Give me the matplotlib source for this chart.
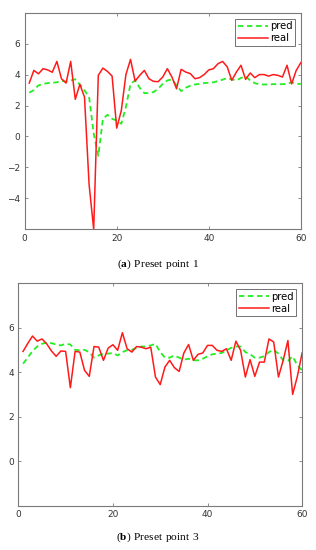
import matplotlib
matplotlib.use("Agg")
import matplotlib.pyplot as plt
import numpy as np

plt.rcParams['font.family'] = ['DejaVu Sans']
plt.rcParams['mathtext.fontset'] = 'custom'
plt.rcParams['mathtext.rm'] = 'Liberation Serif'
plt.rcParams['mathtext.bf'] = 'Liberation Serif:bold'

x = np.arange(1, 61)

real_1 = [3.45, 4.27, 4.05, 4.38, 4.30, 4.15, 4.85, 3.73, 3.45, 4.85,
          2.40, 3.37, 2.55, -3.10, -6.00, 3.95, 4.42, 4.20, 3.90, 0.54,
          1.68, 4.00, 4.98, 3.58, 3.95, 4.27, 3.73, 3.56, 3.54, 3.84,
          4.38, 3.84, 3.08, 4.34, 4.16, 4.06, 3.73, 3.80, 4.00, 4.30,
          4.38, 4.70, 4.85, 4.50, 3.63, 4.16, 4.60, 3.69, 4.10, 3.80,
          4.00, 4.00, 3.90, 4.00, 3.95, 3.84, 4.60, 3.40, 4.27, 4.77]
pred_1 = [2.83, 3.00, 3.30, 3.40, 3.45, 3.47, 3.50, 3.60, 3.55, 3.62,
          3.70, 3.35, 2.98, 2.55, 0.20, -1.25, 1.14, 1.40, 1.14, 1.03,
          0.82, 1.90, 3.40, 3.62, 3.15, 2.80, 2.80, 2.87, 3.08, 3.40,
          3.62, 3.69, 3.30, 2.93, 3.15, 3.28, 3.36, 3.40, 3.45, 3.47,
          3.50, 3.58, 3.67, 3.78, 3.69, 3.62, 3.78, 3.88, 3.62, 3.45,
          3.36, 3.36, 3.36, 3.38, 3.38, 3.38, 3.40, 3.50, 3.40, 3.40]

real_3 = [4.94, 5.30, 5.63, 5.40, 5.50, 5.28, 4.96, 4.72, 4.96, 4.94,
          3.31, 4.94, 4.91, 4.09, 3.82, 5.16, 5.13, 4.54, 5.09, 5.24,
          4.99, 5.78, 5.06, 4.91, 5.16, 5.13, 5.06, 5.13, 3.79, 3.45,
          4.24, 4.54, 4.21, 4.04, 4.87, 5.25, 4.54, 4.81, 4.87, 5.21,
          5.21, 4.99, 4.94, 5.06, 4.54, 5.40, 4.99, 3.79, 4.57, 3.82,
          4.46, 4.46, 5.50, 5.36, 3.79, 4.54, 5.43, 3.01, 3.82, 4.87]
pred_3 = [4.39, 4.66, 4.96, 5.16, 5.28, 5.34, 5.31, 5.25, 5.21, 5.28,
          5.25, 5.01, 4.99, 5.01, 4.91, 4.66, 4.76, 4.84, 4.84, 4.87,
          4.76, 4.91, 4.99, 5.01, 5.10, 5.16, 5.16, 5.21, 5.28, 4.91,
          4.66, 4.66, 4.76, 4.66, 4.57, 4.61, 4.54, 4.54, 4.61, 4.72,
          4.81, 4.84, 4.87, 4.99, 5.10, 5.16, 5.16, 4.91, 4.81, 4.66,
          4.66, 4.72, 4.91, 5.01, 4.84, 4.54, 4.51, 4.72, 4.31, 4.09]

captions = [r"$\mathrm{(}\mathbf{a}\mathrm{)\ Preset\ point\ 1}$",
            r"$\mathrm{(}\mathbf{b}\mathrm{)\ Preset\ point\ 3}$"]
xticks = [0, 20, 40, 60]
yticks_1 = [-4, -2, 0, 2, 4, 6]
yticks_3 = [0, 2, 4, 6]

fig = plt.figure(figsize=(3.16, 5.5), dpi=100)
ax1 = fig.add_axes([0.078, 0.583, 0.874, 0.394])
ax2 = fig.add_axes([0.058, 0.080, 0.898, 0.405])

green = '#22ee22'
red = '#ff1a1a'
axcol = '#7a7a7a'

for ax, real, pred, yt, ylim in [(ax1, real_1, pred_1, yticks_1, (-6, 8)),
                                 (ax2, real_3, pred_3, yticks_3, (-2, 8))]:
    ax.plot(x, pred, linestyle='--', color=green, lw=1.3, dashes=(3, 2), label='pred')
    ax.plot(x, real, linestyle='-', color=red, lw=1.1, label='real')
    ax.set_xlim(0, 60)
    ax.set_ylim(*ylim)
    ax.set_xticks(xticks)
    ax.set_yticks(yt)
    ax.tick_params(direction='in', length=2.5, width=0.6, labelsize=6.5,
                   colors=axcol, labelcolor='#333333', top=True, right=True,
                   pad=3)
    for s in ax.spines.values():
        s.set_color(axcol)
        s.set_linewidth(0.8)
    leg = ax.legend(loc='upper right', fontsize=7.2, frameon=True, fancybox=False,
                    handlelength=3.0, handletextpad=0.2, borderpad=0.25,
                    labelspacing=0.2, borderaxespad=0.6)
    leg.get_frame().set_edgecolor('#333333')
    leg.get_frame().set_linewidth(0.6)

fig.text(0.5, 1 - 264 / 550, captions[0], ha='center', va='center', fontsize=8.2)
fig.text(0.5, 1 - 537 / 550, captions[1], ha='center', va='center', fontsize=8.2)

fig.savefig('out.png', dpi=100)
